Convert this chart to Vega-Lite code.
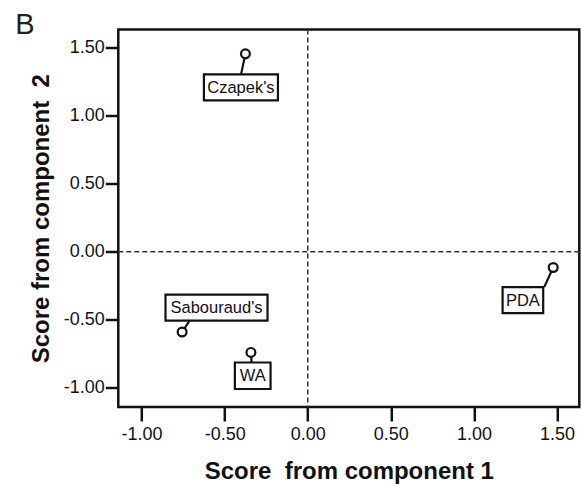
{
  "$schema": "https://vega.github.io/schema/vega-lite/v6.json",
  "autosize": "none",
  "width": 461,
  "height": 377.5,
  "padding": {"left": 118.3, "top": 29.5, "right": 1.5, "bottom": 79},
  "background": "white",
  "title": {"text": "B", "anchor": "start", "frame": "group", "fontSize": 29, "fontWeight": "normal", "font": "Liberation Sans", "color": "#222222", "dx": -103, "offset": -3, "dy": 31, "baseline": "alphabetic"},
  "config": {
    "view": {"stroke": "#111111", "strokeWidth": 2.5, "fill": "white"},
    "axis": {"grid": false, "domain": false, "tickColor": "#111111", "tickWidth": 2.5, "labelFont": "Liberation Sans", "labelFontSize": 18, "labelColor": "#111111", "titleFont": "Liberation Sans", "titleFontSize": 24, "titleFontWeight": "bold", "titleColor": "#111111", "labelExpr": "replace(datum.label, '\u2212', '-')"}
  },
  "datasets": {
    "scores": [
      {"medium": "Czapek's", "c1": -0.375, "c2": 1.455},
      {"medium": "PDA", "c1": 1.477, "c2": -0.115},
      {"medium": "Sabouraud's", "c1": -0.756, "c2": -0.589},
      {"medium": "WA", "c1": -0.342, "c2": -0.739}
    ],
    "zero": [{"v": 0}]
  },
  "layer": [
    {
      "data": {"name": "zero"},
      "mark": {"type": "rule", "color": "#333333", "strokeWidth": 1.5, "strokeDash": [5, 3]},
      "encoding": {"x": {"field": "v", "type": "quantitative", "scale": {"domain": [-1.14, 1.634], "nice": false, "zero": false}}}
    },
    {
      "data": {"name": "zero"},
      "mark": {"type": "rule", "color": "#333333", "strokeWidth": 1.5, "strokeDash": [5, 3]},
      "encoding": {"y": {"field": "v", "type": "quantitative", "scale": {"domain": [-1.14, 1.634], "nice": false, "zero": false}}}
    },
    {
      "data": {"name": "scores"},
      "encoding": {
        "x": {"field": "c1", "type": "quantitative", "scale": {"domain": [-1.14, 1.634], "nice": false, "zero": false},
          "axis": {"values": [-1, -0.5, 0, 0.5, 1, 1.5], "format": ".2f", "tickSize": 14, "labelPadding": 5, "title": "Score\u00a0 from component 1", "titlePadding": 16}},
        "y": {"field": "c2", "type": "quantitative", "scale": {"domain": [-1.14, 1.634], "nice": false, "zero": false},
          "axis": {"values": [-1, -0.5, 0, 0.5, 1, 1.5], "format": ".2f", "tickSize": 13, "labelPadding": 1, "title": "Score from component\u00a0 2", "titlePadding": 10}}
      },
      "layer": [
        {"transform": [{"filter": "datum.medium === \"Czapek's\""}],
         "mark": {"type": "rule", "color": "#111111", "strokeWidth": 2.2, "x2Offset": -4.5, "y2Offset": 21},
         "encoding": {"x2": {"field": "c1"}, "y2": {"field": "c2"}}},
        {"transform": [{"filter": "datum.medium === 'PDA'"}],
         "mark": {"type": "rule", "color": "#111111", "strokeWidth": 2.2, "x2Offset": -9, "y2Offset": 19.6},
         "encoding": {"x2": {"field": "c1"}, "y2": {"field": "c2"}}},
        {"transform": [{"filter": "datum.medium === \"Sabouraud's\""}],
         "mark": {"type": "rule", "color": "#111111", "strokeWidth": 2.2, "x2Offset": 7, "y2Offset": -10.6},
         "encoding": {"x2": {"field": "c1"}, "y2": {"field": "c2"}}},
        {"transform": [{"filter": "datum.medium === 'WA'"}],
         "mark": {"type": "rule", "color": "#111111", "strokeWidth": 2.2, "x2Offset": 0.7, "y2Offset": 10.3},
         "encoding": {"x2": {"field": "c1"}, "y2": {"field": "c2"}}},

        {"transform": [{"filter": "datum.medium === \"Czapek's\""}],
         "mark": {"type": "rect", "width": 74, "height": 26, "xOffset": -4.5, "yOffset": 33.5, "fill": "white", "stroke": "#111111", "strokeWidth": 2.2}},
        {"transform": [{"filter": "datum.medium === 'PDA'"}],
         "mark": {"type": "rect", "width": 40.6, "height": 26, "xOffset": -30.3, "yOffset": 32.6, "fill": "white", "stroke": "#111111", "strokeWidth": 2.2}},
        {"transform": [{"filter": "datum.medium === \"Sabouraud's\""}],
         "mark": {"type": "rect", "width": 102, "height": 26, "xOffset": 34.4, "yOffset": -24.3, "fill": "white", "stroke": "#111111", "strokeWidth": 2.2}},
        {"transform": [{"filter": "datum.medium === 'WA'"}],
         "mark": {"type": "rect", "width": 35.7, "height": 26.5, "xOffset": 1.8, "yOffset": 23.3, "fill": "white", "stroke": "#111111", "strokeWidth": 2.2}},

        {"transform": [{"filter": "datum.medium === \"Czapek's\""}],
         "mark": {"type": "text", "font": "Liberation Sans", "fontSize": 16.5, "color": "#111111", "baseline": "middle", "align": "center", "xOffset": -4.5, "yOffset": 34},
         "encoding": {"text": {"field": "medium"}}},
        {"transform": [{"filter": "datum.medium === 'PDA'"}],
         "mark": {"type": "text", "font": "Liberation Sans", "fontSize": 16.5, "color": "#111111", "baseline": "middle", "align": "center", "xOffset": -30.3, "yOffset": 33.1},
         "encoding": {"text": {"field": "medium"}}},
        {"transform": [{"filter": "datum.medium === \"Sabouraud's\""}],
         "mark": {"type": "text", "font": "Liberation Sans", "fontSize": 16.5, "color": "#111111", "baseline": "middle", "align": "center", "xOffset": 34.4, "yOffset": -23.8},
         "encoding": {"text": {"field": "medium"}}},
        {"transform": [{"filter": "datum.medium === 'WA'"}],
         "mark": {"type": "text", "font": "Liberation Sans", "fontSize": 16.5, "color": "#111111", "baseline": "middle", "align": "center", "xOffset": 1.8, "yOffset": 23.8},
         "encoding": {"text": {"field": "medium"}}},

        {"mark": {"type": "point", "shape": "circle", "size": 78, "filled": true, "fill": "white", "stroke": "#111111", "strokeWidth": 2.2, "opacity": 1}}
      ]
    }
  ]
}
